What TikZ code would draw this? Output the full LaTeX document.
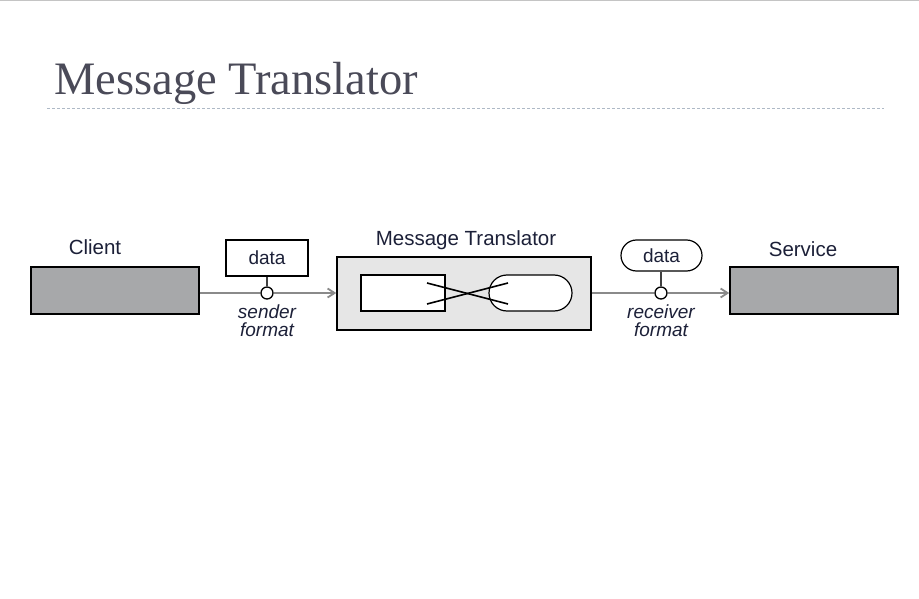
\documentclass[tikz,border=0pt]{standalone}
\usepackage{fontspec}
\setmainfont{Liberation Sans}
\newfontfamily\titlefont{Liberation Serif}
\usetikzlibrary{arrows.meta,shapes.misc}
\definecolor{titlegray}{HTML}{4A4A58}
\definecolor{rulegray}{HTML}{C4C4C4}
\definecolor{dashblue}{HTML}{AEB9C6}
\definecolor{boxgray}{HTML}{A7A8AA}
\definecolor{panelgray}{HTML}{E6E6E6}
\definecolor{linegray}{HTML}{8A8A8A}
\definecolor{labelnavy}{HTML}{1C2038}

\begin{document}
\begin{tikzpicture}[x=1pt,y=-1pt,thick,
    endpoint/.style={rectangle,draw,line width=1.5pt,fill=boxgray,minimum width=168pt,minimum height=47pt,inner sep=0pt},
    panel/.style={rectangle,draw,line width=1.5pt,fill=panelgray,minimum width=254pt,minimum height=73pt,inner sep=0pt},
    msgbox/.style={rectangle,draw,line width=1.4pt,fill=white,inner sep=0pt,font=\fontsize{19}{20}\selectfont,text=labelnavy},
    msgpill/.style={rounded rectangle,draw,line width=1.2pt,fill=white,inner sep=0pt,font=\fontsize{19}{20}\selectfont,text=labelnavy},
    port/.style={circle,draw,line width=1.3pt,fill=white,minimum size=12pt,inner sep=0pt},
    title/.style={font=\fontsize{20.5}{24}\selectfont,text=labelnavy,inner sep=0pt},
    fmt/.style={font=\fontsize{19}{18}\selectfont\itshape,text=labelnavy,align=center,inner sep=0pt},
    conn/.style={draw=linegray,line width=1.8pt}]
        \useasboundingbox (0,0) rectangle (919,599);
        % page decoration
        \draw [rulegray,line width=1.5pt] (0,0.75) -- (919,0.75);
        \node [anchor=base west,inner sep=0pt,text=titlegray,font=\titlefont\fontsize{46.5}{50}\selectfont] (heading) at (54,95) {Message Translator};
        \draw [dashblue,line width=0.8pt,dash pattern=on 3pt off 2pt] (47,108) -- (884,108);
        % endpoints
        \node [endpoint] (client) at (115,290.5) {};
        \node [endpoint] (service) at (814,290.5) {};
        \node [title] (clientlbl) at (95,247) {Client};
        \node [title] (servicelbl) at (803,249) {Service};
        % translator
        \node [panel] (translator) at (464,293.5) {};
        \node [title] (translatorlbl) at (466,240) {Message Translator};
        \node [rectangle,draw,line width=1.5pt,fill=white,minimum width=84pt,minimum height=36pt,inner sep=0pt] (inbox) at (403,293) {};
        \node [rounded rectangle,draw,line width=1.2pt,fill=white,minimum width=83pt,minimum height=36pt,inner sep=0pt] (outpill) at (530.5,293) {};
        \draw [line width=1.6pt] (427,283) -- (508,304);
        \draw [line width=1.6pt] (427,304) -- (508,283);
        % messages
        \node [msgbox,minimum width=82pt,minimum height=36pt] (senddata) at (267,258) {data};
        \node [msgpill,minimum width=81pt,minimum height=31pt] (recvdata) at (661.5,255.5) {data};
        \node [port] (sendport) at (267,293) {};
        \node [port] (recvport) at (661,293) {};
        \node [fmt] (sendfmt) at (267,321) {sender\\format};
        \node [fmt] (recvfmt) at (661,321) {receiver\\format};
        % connectors
        \draw [conn] (client.east |- sendport) -- (sendport);
        \draw [conn,-{Straight Barb[length=7pt,width=9pt]}] (sendport) -- (translator.west |- sendport);
        \draw [conn] (translator.east |- recvport) -- (recvport);
        \draw [conn,-{Straight Barb[length=7pt,width=9pt]}] (recvport) -- (service.west |- recvport);
        \draw [line width=1.4pt,draw=black!75] (senddata) -- (sendport);
        \draw [line width=1.4pt,draw=black!75] (recvdata.south -| recvport) -- (recvport);
    \end{tikzpicture}
\end{document}
